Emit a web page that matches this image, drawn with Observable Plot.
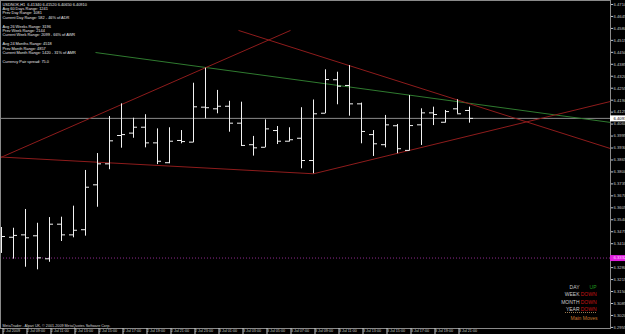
<!DOCTYPE html>
<html><head><meta charset="utf-8">
<script src="https://cdn.jsdelivr.net/npm/d3@7"></script>
<script src="https://cdn.jsdelivr.net/npm/@observablehq/plot@0.6"></script>
<style>
html,body{margin:0;padding:0;background:#000;overflow:hidden}
#chart svg{display:block}
</style></head><body><div id="chart"></div>
<script>
// ---------- data ----------
const symbolTitle = "USDNOK,H1  6.41340 6.41520 6.40650 6.40910";
const infoLines = [
  "Avg 60 Days Range: 1241",
  "Prev Day Range: 1081",
  "Current Day Range: 582 - 46% of ADR",
  "",
  "Avg 26 Weeks Range: 3196",
  "Prev Week Range: 2144",
  "Current Week Range: 2099 - 66% of AWR",
  "",
  "Avg 24 Months Range: 4518",
  "Prev Month Range: 4857",
  "Current Month Range: 1420 - 31% of AMR",
  "",
  "Currency Pair spread: 75.0"
];
const copyright = "MetaTrader - Alpari UK, \u00a9 2001-2009 MetaQuotes Software Corp.";

const barTimes = [
  "2009-07-02T07:00Z","2009-07-02T08:00Z","2009-07-02T09:00Z","2009-07-02T10:00Z","2009-07-02T11:00Z",
  "2009-07-02T12:00Z","2009-07-02T13:00Z","2009-07-02T14:00Z","2009-07-02T15:00Z","2009-07-02T16:00Z",
  "2009-07-02T17:00Z","2009-07-02T18:00Z","2009-07-02T19:00Z","2009-07-02T20:00Z","2009-07-02T21:00Z",
  "2009-07-02T22:00Z","2009-07-02T23:00Z","2009-07-03T00:00Z","2009-07-03T01:00Z","2009-07-03T02:00Z",
  "2009-07-03T03:00Z","2009-07-03T04:00Z","2009-07-03T05:00Z","2009-07-03T06:00Z","2009-07-03T07:00Z",
  "2009-07-03T08:00Z","2009-07-03T09:00Z","2009-07-03T10:00Z","2009-07-03T11:00Z","2009-07-03T12:00Z",
  "2009-07-03T13:00Z","2009-07-03T14:00Z","2009-07-03T15:00Z","2009-07-03T16:00Z","2009-07-03T17:00Z",
  "2009-07-03T18:00Z","2009-07-03T19:00Z","2009-07-03T20:00Z","2009-07-03T21:00Z","2009-07-03T22:00Z"
];
const opens  = [6.3445,6.3445,6.3458,6.3453,6.3328,6.3516,6.3458,6.3486,6.3730,6.3844,
                6.3998,6.4011,6.4043,6.3958,6.3850,6.3971,6.3962,6.4152,6.4143,6.4157,
                6.4065,6.3948,6.3934,6.4025,6.3967,6.3983,6.3862,6.4119,6.4301,6.4270,
                6.4170,6.4003,6.3948,6.4051,6.3917,6.4056,6.4121,6.4070,6.4143,6.4134];
const highs  = [6.3498,6.3494,6.3596,6.3521,6.3552,6.3554,6.3614,6.3808,6.3900,6.4101,
                6.4170,6.4092,6.4111,6.4034,6.4040,6.4025,6.4282,6.4364,6.4243,6.4184,
                6.4179,6.3993,6.4083,6.4047,6.4040,6.4149,6.4191,6.4355,6.4342,6.4378,
                6.4174,6.4025,6.4107,6.4058,6.4215,6.4143,6.4152,6.4134,6.4192,6.4152];
const lows   = [6.3357,6.3326,6.3282,6.3268,6.3309,6.3422,6.3442,6.3451,6.3608,6.3812,
                6.3929,6.3983,6.3931,6.3840,6.3844,6.3953,6.3958,6.4089,6.4116,6.4016,
                6.3938,6.3886,6.3931,6.3949,6.3962,6.3817,6.3790,6.4116,6.4165,6.4103,
                6.3953,6.3884,6.3931,6.3899,6.3913,6.3944,6.4052,6.4065,6.4116,6.4065];
const closes = [6.3449,6.3455,6.3442,6.3333,6.3516,6.3458,6.3483,6.3717,6.3844,6.3969,
                6.4003,6.4043,6.3958,6.3858,6.3967,6.3965,6.4154,6.4149,6.4157,6.4065,
                6.3944,6.3931,6.4034,6.3967,6.3975,6.3862,6.4116,6.4302,6.4266,6.4170,
                6.4020,6.3953,6.4056,6.3926,6.4052,6.4121,6.4112,6.4128,6.4116,6.4091];

// trend lines (start / end time and price)
const redStartTimes  = ["2009-07-02T06:55Z","2009-07-03T02:45Z","2009-07-02T06:55Z","2009-07-03T09:00Z"];
const redStartPrices = [6.3878, 6.4569, 6.3881, 6.3790];
const redEndTimes    = ["2009-07-03T07:05Z","2009-07-04T09:45Z","2009-07-03T09:00Z","2009-07-04T09:45Z"];
const redEndPrices   = [6.4569, 6.3927, 6.3790, 6.4183];
const greenStartTimes  = ["2009-07-02T14:50Z"];
const greenStartPrices = [6.4449];
const greenEndTimes    = ["2009-07-04T09:45Z"];
const greenEndPrices   = [6.4069];

const bidPrice = 6.4091;
const levelPrice = 6.3332;

const viewStart = "2009-07-02T06:55Z";
const viewEnd   = "2009-07-04T09:45Z";
const priceMin = 6.29491, priceMax = 6.47317;

// axis labels (the one hidden under the level box is omitted)
const yTicks = [6.4710,6.4645,6.4580,6.4515,6.4450,6.4385,6.4320,6.4255,6.4190,6.4125,
                6.4060,6.3995,6.3930,6.3865,6.3800,6.3735,6.3670,6.3605,6.3540,6.3475,
                6.3410,6.3280,6.3215,6.3150,6.3085,6.3020,6.2955];
const xTickTimes = ["2009-07-02T07:00Z","2009-07-02T09:00Z","2009-07-02T11:00Z","2009-07-02T13:00Z",
  "2009-07-02T15:00Z","2009-07-02T17:00Z","2009-07-02T19:00Z","2009-07-02T21:00Z","2009-07-02T23:00Z",
  "2009-07-03T01:00Z","2009-07-03T03:00Z","2009-07-03T05:00Z","2009-07-03T07:00Z","2009-07-03T09:00Z",
  "2009-07-03T11:00Z","2009-07-03T13:00Z","2009-07-03T15:00Z","2009-07-03T17:00Z","2009-07-03T19:00Z",
  "2009-07-03T21:00Z"];
const xTickLabels = ["2 Jul 2009","2 Jul 09:00","2 Jul 11:00","2 Jul 13:00","2 Jul 15:00","2 Jul 17:00",
  "2 Jul 19:00","2 Jul 21:00","2 Jul 23:00","3 Jul 01:00","3 Jul 03:00","3 Jul 05:00","3 Jul 07:00",
  "3 Jul 09:00","3 Jul 11:00","3 Jul 13:00","3 Jul 15:00","3 Jul 17:00","3 Jul 19:00","3 Jul 21:00"];

const trendPeriods = ["DAY","WEEK","MONTH","YEAR"];
const trendStates  = ["UP","DOWN","DOWN","DOWN"];
const legendTitle = "Main Moves";

// ---------- build ----------
const bars = barTimes.map((t, i) => ({t: new Date(t), o: opens[i], h: highs[i], l: lows[i], c: closes[i]}));
const mkLines = (st, sp, et, ep) => st.map((d, i) => ({x1: new Date(d), y1: sp[i], x2: new Date(et[i]), y2: ep[i]}));
const redLines = mkLines(redStartTimes, redStartPrices, redEndTimes, redEndPrices);
const greenLines = mkLines(greenStartTimes, greenStartPrices, greenEndTimes, greenEndPrices);
const MIN = 60 * 1000;
const tickLen = 20 * MIN;
const endDate = new Date(viewEnd);
const labelMap = new Map(xTickTimes.map((d, i) => [+new Date(d), xTickLabels[i]]));
const fmt4 = d3.format(".4f");
const FONT = "'Liberation Sans', Arial, sans-serif";
const barColor = "#f2f2f2";

const chart = Plot.plot({
  width: 625, height: 334,
  marginLeft: 0, marginRight: 15, marginTop: 0, marginBottom: 6,
  style: {background: "#000", color: "#c8c8c8", fontFamily: FONT, fontSize: "4px", overflow: "visible"},
  x: {type: "utc", domain: [new Date(viewStart), endDate]},
  y: {domain: [priceMin, priceMax]},
  marks: [
    Plot.ruleY([levelPrice], {y: d => d, stroke: "#8e2a8e", strokeDasharray: "1,2"}),
    Plot.ruleY([bidPrice], {y: d => d, stroke: "#8a8a8a"}),
    Plot.link(greenLines, {x1: "x1", y1: "y1", x2: "x2", y2: "y2", stroke: "#2f7a2f"}),
    Plot.link(redLines, {x1: "x1", y1: "y1", x2: "x2", y2: "y2", stroke: "#8e1c1c"}),
    Plot.ruleX(bars, {x: "t", y1: "l", y2: "h", stroke: barColor}),
    Plot.ruleY(bars, {y: "o", x1: d => new Date(+d.t - tickLen), x2: "t", stroke: barColor}),
    Plot.ruleY(bars, {y: "c", x1: "t", x2: d => new Date(+d.t + tickLen), stroke: barColor}),
    Plot.frame({stroke: "#8a8a8a"}),
    Plot.axisY({ticks: yTicks, anchor: "right", tickSize: 2, tickPadding: 1, tickFormat: fmt4,
      fontSize: 4.2, color: "#c8c8c8", textAnchor: "start"}),
    Plot.axisX({ticks: xTickTimes.map(d => new Date(d)), anchor: "bottom", tickSize: 6, tickPadding: -5,
      tickFormat: d => labelMap.get(+d), textAnchor: "start", dx: 1.5, fontSize: 3.7, color: "#c8c8c8"}),
    // current price box
    Plot.ruleY([bidPrice], {y: d => d, x1: () => endDate, x2: () => new Date(+endDate + 120 * MIN), stroke: "#ffffff", strokeWidth: 6}),
    Plot.text([bidPrice], {y: d => d, frameAnchor: "right", dx: 3, textAnchor: "start", text: fmt4, fill: "#000", fontSize: 4.2}),
    // level box
    Plot.ruleY([levelPrice], {y: d => d, x1: () => endDate, x2: () => new Date(+endDate + 120 * MIN), stroke: "#e01ee0", strokeWidth: 6}),
    Plot.text([levelPrice], {y: d => d, frameAnchor: "right", dx: 3, textAnchor: "start", text: fmt4, fill: "#ffd8ff", fontSize: 4.2}),
    // info text
    Plot.text([[symbolTitle, ...infoLines].join("\n")], {frameAnchor: "top-left", dx: 2, dy: 2, lineAnchor: "top",
      lineHeight: 1.13, fontSize: 3.9, fill: "#e6e6e6", textAnchor: "start"}),
    Plot.text([copyright], {frameAnchor: "bottom-left", dx: 2, dy: -2, lineAnchor: "bottom", fontSize: 3.7, fill: "#d6d6d6", textAnchor: "start"}),
    // legend
    Plot.text([trendPeriods.join("\n")], {frameAnchor: "top-right", dx: -31, dy: 283, textAnchor: "end", lineAnchor: "top",
      lineHeight: 1.5, fontSize: 5, fill: "#c8c8c8"}),
    Plot.text([trendStates.map(s => s === "UP" ? s : "").join("\n")], {frameAnchor: "top-right", dx: -14, dy: 283, textAnchor: "end", lineAnchor: "top",
      lineHeight: 1.5, fontSize: 5, fill: "#1f9a1f"}),
    Plot.text([trendStates.map(s => s === "DOWN" ? s : "").join("\n")], {frameAnchor: "top-right", dx: -14, dy: 283, textAnchor: "end", lineAnchor: "top",
      lineHeight: 1.5, fontSize: 5, fill: "#c81414"}),
    Plot.text([legendTitle], {frameAnchor: "top-right", dx: -26.5, dy: 315.5, textAnchor: "middle", lineAnchor: "top",
      fontSize: 5, fill: "#c8782c"})
  ]
});
// legend separator (dotted rule above "Main Moves")
d3.select(chart).append("line")
  .attr("x1", 565).attr("x2", 597).attr("y1", 312.5).attr("y2", 312.5)
  .attr("stroke", "#9a7a50").attr("stroke-dasharray", "1,1");
document.getElementById("chart").appendChild(chart);
</script>
</body></html>
